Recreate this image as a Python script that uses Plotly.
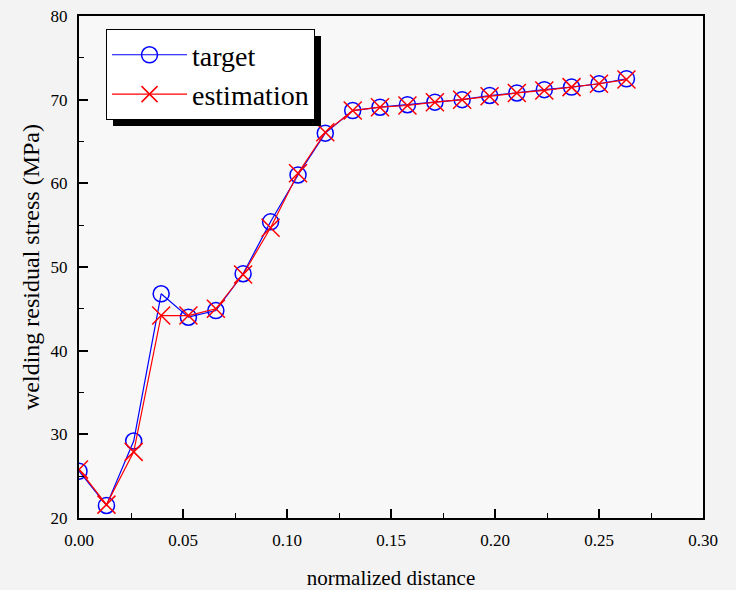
import plotly.graph_objects as go

# normalized distance (x positions)
distance = [0.0000, 0.0132, 0.0263, 0.0395, 0.0526, 0.0658, 0.0789, 0.0921,
            0.1053, 0.1184, 0.1316, 0.1447, 0.1579, 0.1711, 0.1842, 0.1974,
            0.2105, 0.2237, 0.2368, 0.2500, 0.2632]
# welding residual stress (MPa)
target = [25.6, 21.5, 29.2, 46.8, 44.0, 44.8, 49.2, 55.4, 61.0, 66.0, 68.7,
          69.1, 69.4, 69.7, 70.0, 70.5, 70.8, 71.2, 71.5, 71.9, 72.5]
estimation = [25.8, 21.6, 27.9, 44.2, 44.2, 45.0, 49.1, 54.7, 61.2, 66.1, 68.7,
              69.1, 69.3, 69.7, 70.0, 70.4, 70.8, 71.1, 71.5, 71.9, 72.4]

x_ticks = [0.00, 0.05, 0.10, 0.15, 0.20, 0.25, 0.30]
y_ticks = [20, 30, 40, 50, 60, 70, 80]

FONT = "Liberation Serif, Times New Roman, serif"

fig = go.Figure()
fig.add_trace(go.Scatter(
    x=distance, y=target, name="target", mode="lines+markers",
    line=dict(color="#0000ff", width=1.2),
    marker=dict(symbol="circle-open", size=16, color="#0000ff",
                line=dict(width=1.5, color="#0000ff")),
))
fig.add_trace(go.Scatter(
    x=distance, y=estimation, name="estimation", mode="lines+markers",
    line=dict(color="#ff0000", width=1.2),
    marker=dict(symbol="x-thin", size=18, color="#ff0000",
                line=dict(width=1.5, color="#ff0000")),
))

axis_common = dict(
    showline=True, linecolor="black", linewidth=2, mirror=True,
    ticks="inside", ticklen=9, tickwidth=1.5, tickcolor="black",
    showgrid=False, zeroline=False, automargin=False,
    tickfont=dict(family=FONT, size=17, color="black"),
)

fig.update_xaxes(
    range=[0, 0.30], tickvals=x_ticks, tickformat=".2f",
    ticklabelstandoff=6,
    minor=dict(dtick=0.025, ticks="inside", ticklen=5, tickwidth=1.2, tickcolor="black"),
    title=dict(text="normalized distance", font=dict(family=FONT, size=21, color="black"),
               standoff=24),
    **axis_common,
)
fig.update_yaxes(
    range=[20, 80], tickvals=y_ticks,
    ticklabelstandoff=6,
    minor=dict(dtick=5, ticks="inside", ticklen=5, tickwidth=1.2, tickcolor="black"),
    title=dict(text="welding residual stress (MPa)", font=dict(family=FONT, size=24, color="black"),
               standoff=4),
    **axis_common,
)

# legend drop shadow (offset ~7px right/down from the legend box)
fig.add_shape(type="rect", xref="paper", yref="paper",
              x0=0.0545, x1=0.3878, y0=0.7809, y1=0.9602,
              fillcolor="black", line=dict(width=0), layer="above")

fig.update_layout(
    width=736, height=590,
    margin=dict(l=79, r=33, t=16, b=72),
    paper_bgcolor="#f3f3f3", plot_bgcolor="#f8f8f8",
    font=dict(family=FONT, color="black"),
    showlegend=True,
    legend=dict(x=0.0433, y=0.974, xanchor="left", yanchor="top",
                bgcolor="white", bordercolor="black", borderwidth=1,
                font=dict(family=FONT, size=28, color="black"),
                itemwidth=75, tracegroupgap=0),
)

fig.write_html("out.html", config={"displayModeBar": False},
               post_script="document.body.style.margin='0px';")
